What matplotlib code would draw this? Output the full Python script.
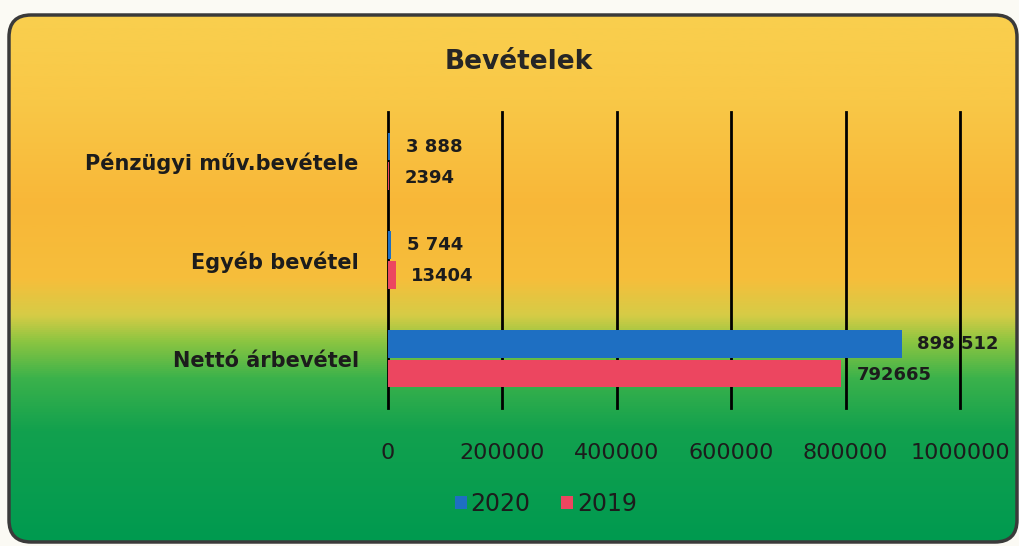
"""
Bevételek - horizontal bar chart on a yellow/green gradient panel
"""
import matplotlib
matplotlib.use('Agg')
import matplotlib.pyplot as plt
from matplotlib.colors import LinearSegmentedColormap
from matplotlib.patches import FancyBboxPatch, Patch
import numpy as np

# Data
categories = ['Nettó árbevétel', 'Egyéb bevétel', 'Pénzügyi műv.bevétele']
values_2020 = [898512, 5744, 3888]
values_2019 = [792665, 13404, 2394]
labels_2020 = ['898 512', '5 744', '3 888']
labels_2019 = ['792665', '13404', '2394']
xticks = [0, 200000, 400000, 600000, 800000, 1000000]
series_names = ['2020', '2019']

BLUE = '#1E6FC2'
RED = '#EC4660'
TEXT = '#1c1c1c'

plt.rcParams['font.family'] = ['DejaVu Sans']

fig = plt.figure(figsize=(10.2, 5.46), dpi=100)
fig.patch.set_facecolor('#FBFAF4')

# Background panel with vertical gradient and rounded border
bg = fig.add_axes([0, 0, 1, 1])
bg.set_xlim(0, 1020)
bg.set_ylim(546, 0)
bg.axis('off')

stops = [(0.00, '#F9CF4E'), (0.16, '#F9C847'), (0.36, '#F8B738'),
         (0.50, '#F6BE3B'), (0.57, '#D6CC46'), (0.62, '#8CC541'),
         (0.69, '#3BB24B'), (0.79, '#12A14E'), (1.00, '#009A50')]
cmap = LinearSegmentedColormap.from_list('panel', stops)
grad = np.linspace(0, 1, 512).reshape(-1, 1)

box = FancyBboxPatch((9, 15), 1008, 527, boxstyle='round,pad=0,rounding_size=22',
                     facecolor='none', edgecolor='#3a3a3a', linewidth=2.5, zorder=3)
bg.add_patch(box)
img = bg.imshow(grad, cmap=cmap, aspect='auto', extent=(9, 1017, 542, 15), zorder=1)
img.set_clip_path(box)

bg.text(519, 62, 'Bevételek', ha='center', va='center', fontsize=19,
        fontweight='bold', color='#262626')

# Bar chart
ax = fig.add_axes([388 / 1020, 1 - 408 / 546, (960 - 388) / 1020, (408 - 112) / 546])
ax.patch.set_alpha(0)
y = np.arange(len(categories))
h = 0.28
off = 0.15
ax.barh(y + off, values_2020, height=h, color=BLUE, zorder=3)
ax.barh(y - off, values_2019, height=h, color=RED, zorder=3)

for yi, v, lab in zip(y, values_2020, labels_2020):
    ax.annotate(lab, (v, yi + off), xytext=(11, 0), textcoords='offset points',
                ha='left', va='center', fontsize=13, fontweight='bold', color=TEXT, zorder=4)
for yi, v, lab in zip(y, values_2019, labels_2019):
    ax.annotate(lab, (v, yi - off), xytext=(11, -1), textcoords='offset points',
                ha='left', va='center', fontsize=13, fontweight='bold', color=TEXT, zorder=4)

ax.set_xlim(0, 1000000)
ax.set_ylim(-0.5, 2.5)
ax.set_xticks(xticks)
ax.set_xticklabels([str(t) for t in xticks], fontsize=16, color=TEXT)
ax.set_yticks(y)
ax.set_yticklabels(categories, fontsize=15, fontweight='bold', color=TEXT)
ax.tick_params(axis='x', length=0, pad=25)
ax.tick_params(axis='y', length=0, pad=21)
ax.grid(axis='x', color='black', linewidth=2, zorder=2)
for line in ax.get_xgridlines():
    line.set_clip_on(False)
for s in ax.spines.values():
    s.set_visible(False)

handles = [Patch(facecolor=BLUE), Patch(facecolor=RED)]
fig.legend(handles, series_names, loc='center', bbox_to_anchor=(546 / 1020, 1 - 504 / 546),
           ncol=2, frameon=False, fontsize=17, handlelength=0.5, handleheight=0.5,
           handletextpad=0.15, columnspacing=1.3, labelcolor=TEXT)

fig.savefig('out.png', dpi=100, facecolor=fig.get_facecolor())
